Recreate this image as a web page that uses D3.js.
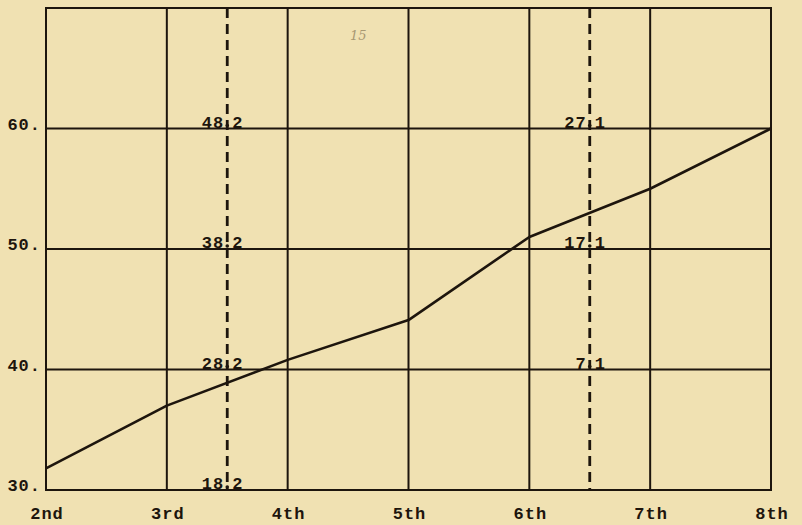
<!DOCTYPE html>
<html>
<head>
<meta charset="utf-8">
<script src="https://cdn.jsdelivr.net/npm/d3@7"></script>
<style>
  body { margin: 0; background: #f0e1b2; }
  svg { display: block; }
  .lbl { font-family: "Liberation Mono", "DejaVu Sans Mono", monospace; font-size: 17px; font-weight: bold; fill: #1d150d; }
</style>
</head>
<body>
<div id="chart"></div>
<script>
var svgWidth = 802;
var svgHeight = 525;

// grades along the bottom
var grades = ["2nd", "3rd", "4th", "5th", "6th", "7th", "8th"];
// plotted values
var values = [31.8, 37.0, 40.8, 44.1, 51.0, 55.0, 60.0];
// left axis ticks
var yTicks = [30, 40, 50, 60];
var yTickLabels = ["30.", "40.", "50.", "60."];
// dashed reference lines (position between grades) and their notes
var dashPos = [1.5, 4.5];
var dashNotesA = [[60, "48.2"], [50, "38.2"], [40, "28.2"], [30, "18.2"]];
var dashNotesB = [[60, "27.1"], [50, "17.1"], [40, "7.1"]];

var plot = { left: 46, right: 771, top: 8, bottom: 490 };
var ink = "#1d150d";

var svg = d3.select("#chart").append("svg")
  .attr("width", svgWidth)
  .attr("height", svgHeight);

svg.append("rect")
  .attr("width", svgWidth)
  .attr("height", svgHeight)
  .attr("fill", "#f0e1b2");

var x = d3.scaleLinear()
  .domain([0, grades.length - 1])
  .range([plot.left, plot.right]);

var y = d3.scaleLinear()
  .domain([30, 70])
  .range([plot.bottom, plot.top]);

// vertical grid
svg.selectAll(".vgrid")
  .data(grades)
  .enter()
  .append("line")
  .attr("x1", (d, i) => x(i))
  .attr("x2", (d, i) => x(i))
  .attr("y1", y(70))
  .attr("y2", y(30))
  .attr("stroke", ink)
  .attr("stroke-width", 2);

// horizontal grid
svg.selectAll(".hgrid")
  .data([30, 40, 50, 60, 70])
  .enter()
  .append("line")
  .attr("x1", x(0) - 1)
  .attr("x2", x(grades.length - 1) + 1)
  .attr("y1", d => y(d))
  .attr("y2", d => y(d))
  .attr("stroke", ink)
  .attr("stroke-width", 2);

// dashed lines
svg.selectAll(".dash")
  .data(dashPos)
  .enter()
  .append("line")
  .attr("x1", d => x(d))
  .attr("x2", d => x(d))
  .attr("y1", y(70))
  .attr("y2", y(30))
  .attr("stroke", ink)
  .attr("stroke-width", 2.8)
  .attr("stroke-dasharray", "10,6");

// data line
var line = d3.line()
  .x((d, i) => x(i))
  .y(d => y(d));

svg.append("path")
  .datum(values)
  .attr("d", line)
  .attr("fill", "none")
  .attr("stroke", ink)
  .attr("stroke-width", 2.6)
  .attr("stroke-linejoin", "round");

// y tick labels
svg.selectAll(".ytick")
  .data(yTicks)
  .enter()
  .append("text")
  .attr("class", "lbl")
  .attr("x", 41)
  .attr("y", d => y(d) + 1)
  .attr("text-anchor", "end")
  .attr("letter-spacing", 1)
  .text((d, i) => yTickLabels[i]);

// x tick labels
svg.selectAll(".xtick")
  .data(grades)
  .enter()
  .append("text")
  .attr("class", "lbl")
  .attr("x", (d, i) => x(i) + 1)
  .attr("y", 519)
  .attr("text-anchor", "middle")
  .attr("letter-spacing", 1)
  .text(d => d);

// notes on the dashed lines: split at the decimal point so the point sits on the line
function notes(data, pos) {
  var g = svg.append("g");
  data.forEach(function(n) {
    var parts = n[1].split(".");
    g.append("text")
      .attr("class", "lbl")
      .attr("x", x(pos) - 3)
      .attr("y", y(n[0]) - 1)
      .attr("text-anchor", "end")
      .attr("letter-spacing", 1)
      .text(parts[0]);
    g.append("text")
      .attr("class", "lbl")
      .attr("x", x(pos) + 5)
      .attr("y", y(n[0]) - 1)
      .text(parts[1]);
    g.append("circle")
      .attr("cx", x(pos))
      .attr("cy", y(n[0]) - 3)
      .attr("r", 1.8)
      .attr("fill", ink);
  });
}
notes(dashNotesA, dashPos[0]);
notes(dashNotesB, dashPos[1]);

// faint pencil mark
svg.append("text")
  .attr("x", 350)
  .attr("y", 40)
  .attr("font-family", "DejaVu Serif, serif")
  .attr("font-style", "italic")
  .attr("font-size", 13)
  .attr("fill", "#a89872")
  .text("15");
</script>
</body>
</html>
